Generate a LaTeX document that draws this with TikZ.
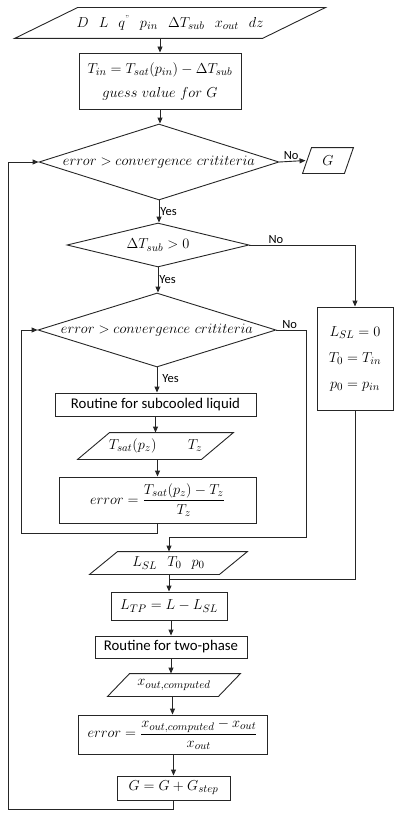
\documentclass[tikz,border=0pt]{standalone}
\usepackage{amsmath}
\usepackage{fontspec}
\setsansfont{Carlito}
\usetikzlibrary{shapes.geometric,arrows.meta}
\DeclareMathSizes{13.5}{13.5}{10.5}{8.5}
\newcommand{\parash}[2]{\draw ([xshift=#2]#1.north west) -- (#1.north east) -- ([xshift=-#2]#1.south east) -- (#1.south west) -- cycle;}
\newcommand{\gp}{\hspace{0.75em}}
\begin{document}
\begin{tikzpicture}[x=1pt,y=-1pt,
  line width=0.9pt, draw=black!85,
  arr/.style={-{Triangle[length=6pt,width=5pt]}},
  box/.style={draw=black!85,line width=0.9pt,rectangle,inner sep=0pt},
  dia/.style={draw=black!85,line width=0.9pt,diamond,inner sep=0pt},
  para/.style={rectangle,inner sep=0pt},
  mtxt/.style={font=\fontsize{13.5}{16}\selectfont},
  dtxt/.style={font=\fontsize{15.5}{18}\selectfont},
  stxt/.style={font=\sffamily\fontsize{14.8}{17}\selectfont},
  lab/.style={font=\sffamily\fontsize{12.5}{14}\selectfont,inner sep=1pt}]
\useasboundingbox (0,0) rectangle (401,816);
% input
\node[para,minimum width=310pt,minimum height=30pt,mtxt] (in) at (170,23) {$D\gp L\gp q^{\scriptscriptstyle "}\gp p_{in}\gp \Delta T_{sub}\gp x_{out}\gp dz$};
\parash{in}{63pt}
\node[box,minimum width=162pt,minimum height=56pt,align=center,mtxt] (b1) at (160,81)
  {$T_{in}=T_{sat}(p_{in})-\Delta T_{sub}$\\[8pt] $guess\ value\ for\ G$};
\node[dia,minimum width=240pt,minimum height=76pt] (d1) at (159,162) {};
\node[dtxt] at (d1.center) {$error>convergence\ crititeria$};
\node[para,minimum width=50pt,minimum height=25pt,mtxt] (g) at (328,160.5) {$G$};
\parash{g}{9pt}
\node[dia,minimum width=182pt,minimum height=44pt] (d2) at (158,245) {};
\node[mtxt] at (d2.center) {$\Delta T_{sub}>0$};
\node[box,minimum width=76pt,minimum height=103pt,align=center,mtxt] (rb) at (355,358.5)
  {$L_{SL}=0$\\[10pt] $T_0=T_{in}$\\[10pt] $p_0=p_{in}$};
\node[dia,minimum width=238pt,minimum height=74pt] (d3) at (157,330) {};
\node[dtxt] at (d3.center) {$error>convergence\ crititeria$};
\node[box,minimum width=201pt,minimum height=23pt,stxt] (r1) at (155.5,404.5) {Routine for subcooled liquid};
\node[para,minimum width=155pt,minimum height=26pt,mtxt] (tz) at (155.5,446) {$T_{sat}(p_z)\qquad\ T_z$};
\parash{tz}{32pt}
\node[box,minimum width=197pt,minimum height=46pt,mtxt] (e1) at (157.5,500) {$error=\dfrac{T_{sat}(p_z)-T_z}{T_z}$};
\node[para,minimum width=157pt,minimum height=22pt,mtxt] (ls) at (168.5,563) {$L_{SL}\gp T_0\gp p_0$};
\parash{ls}{28pt}
\node[box,minimum width=116pt,minimum height=28pt,mtxt] (ltp) at (169,606) {$L_{TP}=L-L_{SL}$};
\node[box,minimum width=152pt,minimum height=22pt,stxt] (r2) at (171,647) {Routine for two-phase};
\node[para,minimum width=132pt,minimum height=22pt,mtxt] (xo) at (174,685) {$x_{out,computed}$};
\parash{xo}{22pt}
\node[box,minimum width=189pt,minimum height=39pt,mtxt] (e2) at (172.5,734.5) {$error=\dfrac{x_{out,computed}-x_{out}}{x_{out}}$};
\node[box,minimum width=113pt,minimum height=24pt,mtxt] (gg) at (173.5,788) {$G=G+G_{step}$};
% connectors
\draw[arr] (b1.north |- in.south) -- (b1.north);
\draw[arr] (b1.south) -- (b1.south |- d1.north);
\draw[arr] (d1.east) -- node[lab,above,pos=0.45]{No} ([xshift=3pt]g.west);
\draw[arr] (d1.south) -- node[lab,right]{Yes} (d1.south |- d2.north);
\draw[arr] (d2.east) -- node[lab,above,pos=0.25]{No} (d2.east -| rb.north) -- (rb.north);
\draw[arr] (d2.south) -- node[lab,right]{Yes} (d2.south |- d3.north);
\draw[arr] (d3.south) -- node[lab,right,pos=0.45,xshift=4pt]{Yes} (d3.south |- r1.north);
\draw[arr] (r1.south) -- (r1.south |- tz.north);
\draw[arr] (e1.north |- tz.south) -- (e1.north);
\coordinate (c1) at (21,533);
\draw[arr] (e1.south) -- (e1.south |- c1) -- (c1) -- (c1 |- d3.west) -- (d3.west);
\coordinate (c2) at (306,537);
\draw[arr] (d3.east) -- node[lab,above,pos=0.45]{No} (d3.east -| c2) -- (c2) -- (c2 -| ltp.north) -- (ltp.north |- ls.north);
\draw[arr] (ltp.north |- ls.south) -- (ltp.north);
\coordinate (c3) at (169,579);
\draw (rb.south) -- (rb.south |- c3) -- (c3);
\draw[arr] (ltp.south) -- (ltp.south -| r2.north) -- (r2.north);
\draw[arr] (r2.south) -- (r2.south |- xo.north);
\draw[arr] (e2.north |- xo.south) -- (e2.north);
\draw[arr] (gg.north |- e2.south) -- (gg.north);
\coordinate (c4) at (8,809);
\draw[arr] (gg.south) -- (gg.south |- c4) -- (c4) -- (c4 |- d1.west) -- (d1.west);
\end{tikzpicture}
\end{document}
